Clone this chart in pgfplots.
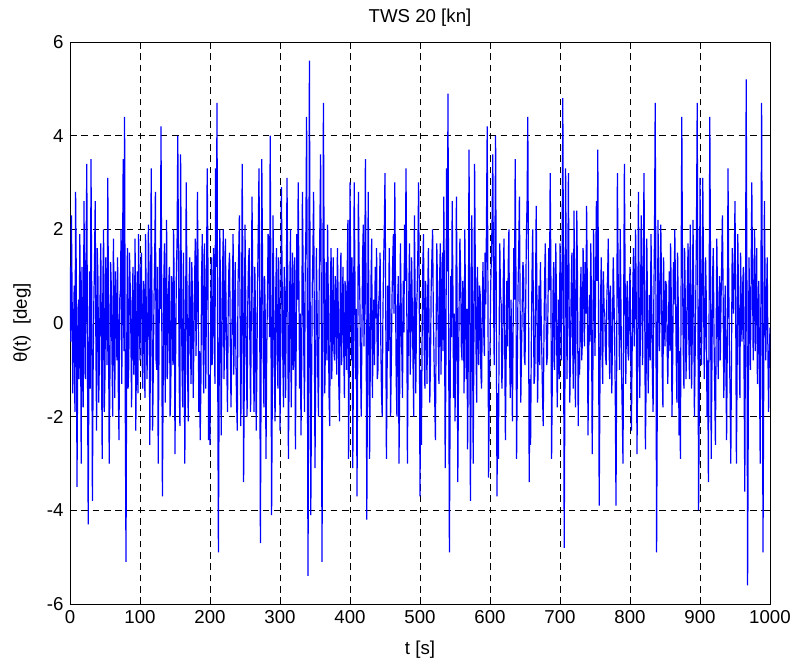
\documentclass[border=0pt]{standalone}
\usepackage{fontspec}
\setmainfont{Liberation Sans}
\usepackage{pgfplots}
\pgfplotsset{compat=1.18}
\usetikzlibrary{calc}
\definecolor{mblue}{RGB}{0,0,255}
\begin{document}
\fontsize{14}{16}\selectfont
\begin{tikzpicture}
\begin{axis}[
  name=ax,
  scale only axis,
  width=525pt, height=421.5pt,
  xmin=0, xmax=1000, ymin=-6, ymax=6,
  xtick={0,100,...,1000}, ytick={-6,-4,...,6},
  tick align=inside, tick pos=both,
  major tick length=5pt,
  grid=major,
  major grid style={black, line width=0.4pt, dash pattern=on 5pt off 3.5pt},
  axis line style={black, line width=0.5pt},
  every tick/.style={black, line width=0.5pt},
  /pgf/number format/assume math mode=true,
  /pgf/number format/set thousands separator={},
  tick label style={font=\fontsize{14}{16}\selectfont},
  label style={font=\fontsize{14}{16}\selectfont},
  title style={font=\fontsize{14}{16}\selectfont},
  title={TWS 20 [kn]},
  every axis title/.style={at={(axis description cs:0.5,1.0427)},anchor=center},
  xlabel={t [s]},
  every axis x label/.style={at={(axis description cs:0.5,-0.0819)},anchor=center},
  ylabel={θ(t)\ \ [deg]},
  every axis y label/.style={at={(axis description cs:-0.0686,0.5)},anchor=center,rotate=90},
  clip=true,
]
\addplot[mblue, line width=0.9pt, mark=none] coordinates {
(0,1.2)(1,-0.4)(2,2.3)(3,0.6)(4,-1.5)(5,-0.2)(6,0.8)(7,-1.9)(8,2.8)(9,1.0)(10,-3.5)(11,-0.8)(12,0.5)(13,-1.2)(14,1.9)(15,0.3)(16,-3.0)(17,1.2)(18,-0.6)(19,-1.8)
(20,2.6)(21,0.4)(22,-1.2)(23,1.5)(24,3.4)(25,-0.9)(26,-4.3)(27,-1.0)(28,1.1)(29,-1.4)(30,3.5)(31,0.7)(32,-3.8)(33,-1.1)(34,0.4)(35,1.3)(36,2.6)(37,-0.5)(38,-2.3)(39,1.6)
(40,0.9)(41,-1.7)(42,-0.8)(43,0.6)(44,1.7)(45,-0.8)(46,-2.9)(47,0.9)(48,2.0)(49,-1.9)(50,-1.1)(51,1.4)(52,0.6)(53,-0.9)(54,3.1)(55,0.2)(56,-3.0)(57,-1.2)(58,1.3)(59,0.8)
(60,-0.7)(61,-2.0)(62,1.8)(63,0.4)(64,-1.6)(65,1.1)(66,0.3)(67,-0.8)(68,1.4)(69,-1.4)(70,-2.5)(71,0.5)(72,0.7)(73,2.0)(74,-1.3)(75,1.2)(76,3.5)(77,-0.6)(78,4.4)(79,-1.9)
(80,-5.1)(81,-0.7)(82,1.6)(83,-1.4)(84,-0.9)(85,1.5)(86,0.8)(87,-0.3)(88,-1.8)(89,0.5)(90,1.2)(91,-1.1)(92,-0.4)(93,1.8)(94,-2.3)(95,-0.6)(96,1.1)(97,-1.5)(98,1.9)(99,0.4)
(100,-0.8)(101,1.1)(102,1.5)(103,-0.7)(104,-1.4)(105,0.9)(106,0.6)(107,-1.6)(108,1.9)(109,0.2)(110,-1.2)(111,-0.3)(112,2.1)(113,1.0)(114,-2.6)(115,-0.4)(116,3.3)(117,0.7)(118,-2.3)(119,-1.0)
(120,0.5)(121,1.4)(122,2.8)(123,-0.8)(124,-1.0)(125,1.2)(126,-3.0)(127,-0.9)(128,1.6)(129,0.3)(130,4.2)(131,0.8)(132,-3.7)(133,-1.5)(134,0.9)(135,1.7)(136,-1.7)(137,0.2)(138,2.2)(139,-1.2)
(140,-0.5)(141,0.8)(142,1.2)(143,-2.0)(144,-1.5)(145,1.0)(146,0.4)(147,-0.9)(148,2.0)(149,0.6)(150,-2.8)(151,-0.5)(152,1.1)(153,1.8)(154,4.0)(155,1.3)(156,-1.3)(157,-2.2)(158,3.6)(159,1.0)
(160,-0.9)(161,-1.8)(162,1.5)(163,0.1)(164,-3.0)(165,-1.0)(166,3.0)(167,0.9)(168,-1.1)(169,-2.1)(170,0.7)(171,1.4)(172,-0.4)(173,-1.3)(174,1.3)(175,0.5)(176,-1.6)(177,-0.4)(178,0.9)(179,1.8)
(180,-0.7)(181,0.3)(182,2.8)(183,1.1)(184,-1.9)(185,-0.6)(186,-2.5)(187,-1.3)(188,1.0)(189,1.9)(190,-0.3)(191,-1.5)(192,1.7)(193,0.4)(194,-1.4)(195,0.8)(196,3.3)(197,1.4)(198,-2.5)(199,-1.1)
(200,-2.6)(201,0.2)(202,1.4)(203,-0.9)(204,-0.6)(205,1.6)(206,1.0)(207,-1.3)(208,3.3)(209,1.2)(210,4.7)(211,-0.8)(212,-4.9)(213,-1.6)(214,2.0)(215,0.7)(216,-2.4)(217,-0.5)(218,1.1)(219,2.0)
(220,-1.2)(221,-0.3)(222,1.8)(223,0.2)(224,-0.9)(225,-1.9)(226,0.3)(227,1.2)(228,1.5)(229,-0.4)(230,-1.8)(231,-0.6)(232,0.6)(233,1.9)(234,-1.1)(235,0.1)(236,1.3)(237,-0.7)(238,-1.7)(239,-2.3)
(240,0.8)(241,1.5)(242,2.3)(243,0.1)(244,-2.2)(245,-0.4)(246,3.4)(247,1.0)(248,-3.4)(249,-1.2)(250,2.1)(251,0.6)(252,-1.0)(253,-2.0)(254,0.4)(255,1.3)(256,1.6)(257,-0.5)(258,-1.9)(259,0.3)
(260,2.7)(261,1.1)(262,-0.8)(263,-1.9)(264,1.2)(265,0.2)(266,-2.3)(267,-1.0)(268,0.9)(269,2.0)(270,3.3)(271,0.5)(272,-4.7)(273,-1.1)(274,3.5)(275,1.4)(276,-0.6)(277,-1.8)(278,1.0)(279,0.1)
(280,-2.9)(281,-0.7)(282,0.5)(283,1.9)(284,1.7)(285,-0.3)(286,4.0)(287,0.6)(288,-4.1)(289,-1.5)(290,2.3)(291,0.9)(292,-1.3)(293,-2.1)(294,0.7)(295,1.6)(296,-0.5)(297,-1.4)(298,1.4)(299,0.3)
(300,-2.3)(301,-0.6)(302,2.9)(303,1.0)(304,-0.7)(305,-1.8)(306,1.2)(307,0.4)(308,-1.6)(309,0.6)(310,3.1)(311,1.1)(312,-2.9)(313,-1.2)(314,0.8)(315,2.0)(316,-1.8)(317,-0.4)(318,1.5)(319,-1.0)
(320,0.3)(321,1.4)(322,-2.7)(323,-0.8)(324,1.9)(325,0.5)(326,3.0)(327,0.9)(328,-1.4)(329,0.2)(330,-2.4)(331,-0.9)(332,2.8)(333,1.2)(334,-0.6)(335,-1.9)(336,1.1)(337,2.0)(338,4.4)(339,0.3)
(340,-5.4)(341,-1.2)(342,5.6)(343,0.8)(344,-4.1)(345,-1.6)(346,0.7)(347,1.5)(348,2.8)(349,0.1)(350,-3.1)(351,-1.0)(352,1.6)(353,0.3)(354,-1.1)(355,-2.0)(356,0.9)(357,2.1)(358,3.6)(359,0.4)
(360,-5.1)(361,-1.3)(362,4.7)(363,1.6)(364,-1.5)(365,-0.3)(366,1.3)(367,-0.8)(368,2.1)(369,0.5)(370,-1.5)(371,-2.2)(372,0.8)(373,1.6)(374,-1.2)(375,0.0)(376,1.4)(377,-0.6)(378,-0.8)(379,1.0)
(380,0.5)(381,-1.1)(382,1.6)(383,0.6)(384,-1.3)(385,-2.1)(386,0.7)(387,1.5)(388,-0.9)(389,0.2)(390,1.2)(391,-0.5)(392,-1.6)(393,0.9)(394,0.4)(395,-1.0)(396,1.1)(397,2.2)(398,-2.9)(399,-0.7)
(400,3.0)(401,1.0)(402,-0.8)(403,1.4)(404,-3.1)(405,-0.6)(406,3.0)(407,1.1)(408,-1.2)(409,0.3)(410,-3.7)(411,-0.9)(412,2.8)(413,1.3)(414,0.6)(415,-0.8)(416,-2.0)(417,-0.3)(418,1.4)(419,2.1)
(420,-0.5)(421,0.7)(422,3.5)(423,0.4)(424,-4.2)(425,-1.1)(426,2.8)(427,0.2)(428,-2.9)(429,-0.8)(430,0.9)(431,1.8)(432,-1.6)(433,-0.3)(434,0.5)(435,-0.9)(436,1.2)(437,0.1)(438,1.6)(439,-1.2)
(440,-1.0)(441,0.4)(442,0.7)(443,1.5)(444,-0.4)(445,-1.5)(446,-2.0)(447,0.1)(448,1.3)(449,2.0)(450,3.2)(451,0.6)(452,-2.9)(453,-1.1)(454,0.8)(455,-0.6)(456,1.6)(457,0.3)(458,-2.0)(459,-0.9)
(460,0.5)(461,1.3)(462,1.9)(463,0.2)(464,3.0)(465,0.8)(466,-1.2)(467,-2.0)(468,0.4)(469,1.0)(470,-3.0)(471,-1.4)(472,1.7)(473,0.5)(474,-0.6)(475,-1.6)(476,0.9)(477,-0.2)(478,2.1)(479,0.9)
(480,3.3)(481,1.0)(482,-3.0)(483,-0.8)(484,0.6)(485,1.7)(486,-1.1)(487,-0.2)(488,1.4)(489,0.3)(490,-0.8)(491,-2.0)(492,2.3)(493,0.7)(494,-1.5)(495,0.2)(496,0.7)(497,1.6)(498,3.0)(499,0.5)
(500,-3.7)(501,-1.0)(502,-2.6)(503,-0.4)(504,1.2)(505,1.9)(506,-0.5)(507,-1.4)(508,0.9)(509,0.1)(510,-1.3)(511,0.6)(512,1.6)(513,-0.2)(514,-1.7)(515,-0.8)(516,0.8)(517,1.4)(518,2.0)(519,0.3)
(520,-0.7)(521,-1.6)(522,-2.5)(523,-0.3)(524,1.7)(525,0.8)(526,-0.3)(527,-1.3)(528,0.9)(529,1.7)(530,-1.1)(531,0.2)(532,1.5)(533,-0.6)(534,2.7)(535,0.4)(536,-3.1)(537,-0.9)(538,3.3)(539,1.1)
(540,4.9)(541,-0.5)(542,-4.9)(543,-1.8)(544,1.0)(545,-0.3)(546,2.6)(547,0.8)(548,-1.6)(549,0.2)(550,-2.1)(551,-0.7)(552,2.7)(553,0.6)(554,-3.4)(555,-1.2)(556,0.6)(557,1.8)(558,1.1)(559,-0.5)
(560,-0.8)(561,0.9)(562,0.4)(563,-1.5)(564,2.0)(565,0.5)(566,-1.2)(567,0.3)(568,-2.7)(569,-0.6)(570,3.7)(571,1.0)(572,-3.8)(573,-1.3)(574,2.3)(575,0.1)(576,-3.0)(577,-0.4)(578,3.4)(579,1.2)
(580,-0.5)(581,-1.7)(582,1.2)(583,0.3)(584,-0.9)(585,0.8)(586,0.6)(587,-1.1)(588,-1.4)(589,0.4)(590,1.3)(591,-0.2)(592,-0.7)(593,1.5)(594,0.4)(595,2.2)(596,4.2)(597,0.9)(598,-3.3)(599,-1.5)
(600,-0.6)(601,0.8)(602,1.4)(603,2.2)(604,3.6)(605,0.7)(606,-0.9)(607,1.6)(608,4.0)(609,0.3)(610,-3.7)(611,-1.5)(612,-2.9)(613,-0.4)(614,1.7)(615,0.6)(616,0.4)(617,-1.4)(618,-0.8)(619,0.9)
(620,1.8)(621,-0.3)(622,-2.5)(623,-0.9)(624,0.9)(625,-0.5)(626,1.2)(627,2.0)(628,-0.6)(629,-1.6)(630,0.5)(631,-0.4)(632,-2.1)(633,-0.2)(634,1.6)(635,0.5)(636,3.5)(637,1.2)(638,-2.9)(639,-1.0)
(640,0.7)(641,1.5)(642,2.7)(643,0.4)(644,-1.7)(645,-0.6)(646,0.3)(647,1.3)(648,1.1)(649,-0.7)(650,-0.9)(651,0.4)(652,1.9)(653,2.6)(654,4.4)(655,0.8)(656,-3.4)(657,-1.2)(658,-2.6)(659,-0.5)
(660,1.0)(661,2.0)(662,0.3)(663,-1.3)(664,-1.1)(665,0.5)(666,2.5)(667,0.6)(668,-1.7)(669,-0.6)(670,0.8)(671,-0.9)(672,1.3)(673,0.2)(674,-0.6)(675,-1.5)(676,-2.2)(677,-0.4)(678,0.9)(679,1.7)
(680,0.2)(681,-0.9)(682,-0.7)(683,0.6)(684,1.6)(685,0.7)(686,3.2)(687,1.0)(688,-2.9)(689,-1.2)(690,0.6)(691,1.3)(692,-1.0)(693,-0.1)(694,1.7)(695,0.4)(696,-1.8)(697,-0.7)(698,0.5)(699,-1.2)
(700,1.7)(701,0.6)(702,-0.8)(703,1.3)(704,4.8)(705,0.9)(706,-4.8)(707,-1.4)(708,3.3)(709,1.1)(710,-1.2)(711,0.7)(712,3.2)(713,0.5)(714,-1.7)(715,-0.6)(716,0.7)(717,1.5)(718,-0.3)(719,-1.4)
(720,2.4)(721,0.6)(722,-1.8)(723,0.1)(724,2.4)(725,0.9)(726,-2.2)(727,-0.6)(728,-1.1)(729,0.5)(730,1.2)(731,-0.8)(732,-0.4)(733,1.6)(734,0.9)(735,-0.5)(736,1.3)(737,0.2)(738,2.5)(739,0.8)
(740,-2.4)(741,-0.9)(742,0.6)(743,-0.4)(744,1.7)(745,0.3)(746,-2.8)(747,-1.0)(748,2.0)(749,0.6)(750,-0.7)(751,1.1)(752,2.6)(753,0.9)(754,3.7)(755,0.4)(756,-3.9)(757,-1.5)(758,0.5)(759,1.4)
(760,-0.6)(761,-1.3)(762,1.1)(763,0.3)(764,0.2)(765,-0.7)(766,-0.9)(767,0.6)(768,1.0)(769,1.8)(770,-0.4)(771,-1.2)(772,0.8)(773,0.0)(774,-1.5)(775,-0.3)(776,1.4)(777,0.6)(778,-0.2)(779,-1.6)
(780,-3.9)(781,-0.8)(782,3.2)(783,1.1)(784,0.3)(785,-1.0)(786,2.0)(787,0.5)(788,-1.1)(789,-2.0)(790,-3.0)(791,0.4)(792,3.4)(793,1.0)(794,-1.3)(795,0.2)(796,0.9)(797,-0.6)(798,-0.8)(799,0.5)
(800,1.2)(801,-0.4)(802,-2.3)(803,-0.7)(804,0.7)(805,1.6)(806,-0.5)(807,0.4)(808,2.0)(809,0.3)(810,-2.8)(811,-0.9)(812,2.8)(813,0.7)(814,-1.6)(815,0.2)(816,2.3)(817,0.6)(818,-0.9)(819,1.3)
(820,3.2)(821,0.5)(822,-2.7)(823,-1.3)(824,1.8)(825,0.4)(826,-1.5)(827,-0.3)(828,0.6)(829,-0.8)(830,1.9)(831,0.7)(832,-1.1)(833,-1.9)(834,0.4)(835,1.9)(836,4.7)(837,0.6)(838,-4.9)(839,-1.6)
(840,2.2)(841,0.8)(842,-0.6)(843,0.5)(844,2.1)(845,0.9)(846,-1.0)(847,-1.8)(848,1.4)(849,0.2)(850,-0.5)(851,0.9)(852,0.8)(853,-0.4)(854,-1.3)(855,-0.2)(856,1.1)(857,-0.6)(858,1.7)(859,0.5)
(860,-2.0)(861,-0.8)(862,1.3)(863,0.4)(864,2.0)(865,0.7)(866,-0.7)(867,-1.7)(868,1.5)(869,0.3)(870,-2.4)(871,-0.6)(872,-2.9)(873,0.8)(874,4.4)(875,1.2)(876,-0.5)(877,-1.4)(878,1.6)(879,0.5)
(880,-1.2)(881,-0.4)(882,0.9)(883,1.7)(884,-0.3)(885,-1.2)(886,2.1)(887,0.6)(888,-1.4)(889,-0.2)(890,2.2)(891,0.7)(892,-2.0)(893,-0.8)(894,0.6)(895,2.1)(896,4.7)(897,0.5)(898,-4.0)(899,-1.7)
(900,3.1)(901,0.9)(902,-0.9)(903,0.4)(904,3.1)(905,1.0)(906,-1.2)(907,-0.3)(908,1.4)(909,0.5)(910,-2.0)(911,-0.8)(912,-3.4)(913,0.2)(914,4.4)(915,1.3)(916,-2.9)(917,-1.0)(918,1.0)(919,1.6)
(920,-0.3)(921,-1.4)(922,-2.6)(923,-0.5)(924,1.8)(925,0.6)(926,-1.2)(927,0.1)(928,1.0)(929,-0.8)(930,0.4)(931,1.3)(932,2.3)(933,0.7)(934,-1.6)(935,-0.5)(936,0.8)(937,-0.9)(938,-2.5)(939,-0.4)
(940,3.3)(941,1.0)(942,-0.6)(943,-1.5)(944,-3.0)(945,-0.7)(946,1.6)(947,0.5)(948,0.2)(949,1.4)(950,2.6)(951,0.4)(952,-3.0)(953,-1.1)(954,1.9)(955,0.6)(956,-0.7)(957,-1.6)(958,1.5)(959,0.3)
(960,-0.4)(961,0.8)(962,1.2)(963,-1.2)(964,-3.6)(965,0.4)(966,5.2)(967,0.9)(968,-5.6)(969,-1.9)(970,1.4)(971,0.3)(972,-1.0)(973,0.8)(974,3.0)(975,1.1)(976,-0.8)(977,0.5)(978,2.0)(979,-0.6)
(980,0.5)(981,1.6)(982,-1.3)(983,-0.4)(984,0.9)(985,-1.1)(986,-3.0)(987,0.6)(988,4.7)(989,0.8)(990,-4.9)(991,-1.4)(992,2.6)(993,0.9)(994,-0.8)(995,0.5)(996,1.4)(997,-0.6)(998,-1.9)(999,-0.7)
(1000,-0.1)
};
\end{axis}
\pgfresetboundingbox
\path ($(ax.south west)+(-52.5pt,-44.25pt)$) rectangle ($(ax.north east)+(18pt,31.5pt)$);
\end{tikzpicture}
\end{document}
